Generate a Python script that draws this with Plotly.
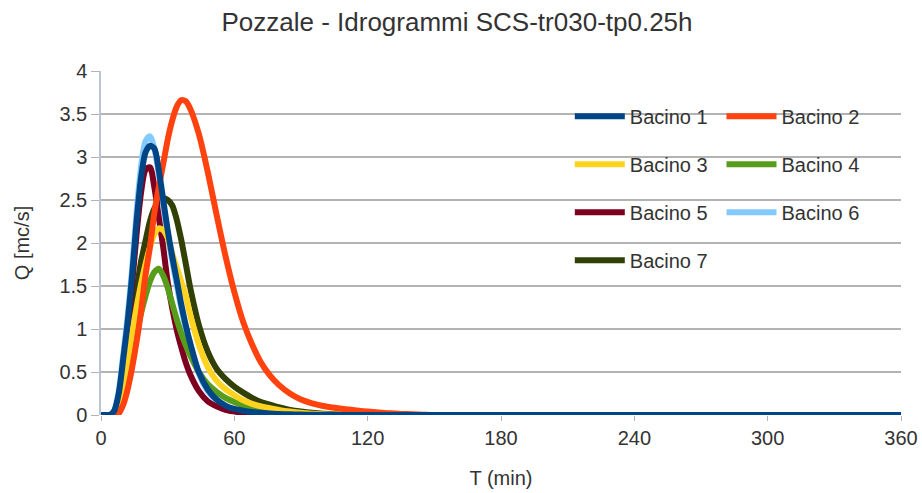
import plotly.graph_objects as go

# Time axis (minutes)
T = [0, 2, 4, 6, 8, 10, 12, 14, 16, 18, 20, 22, 24, 26, 28, 30, 32, 34, 36, 38, 40,
     44, 48, 52, 56, 60, 64, 68, 72, 76, 80,
     85, 90, 95, 100, 105, 110, 115, 120, 125, 130, 135, 140, 145, 150,
     360]

bacino_1 = [0, 0, 0, 0.05, 0.25, 0.65, 1.08, 1.62, 2.25, 2.75, 3.05, 3.13, 3.1, 2.85, 2.5, 2.15, 1.85, 1.58, 1.3, 1.06, 0.85,
            0.5, 0.3, 0.18, 0.11, 0.07, 0.05, 0.035, 0.025, 0.018, 0.012,
            0.008, 0.005, 0.003, 0.002, 0.001, 0, 0, 0, 0, 0, 0, 0, 0, 0,
            0]
bacino_2 = [0, 0, 0, 0, 0.02, 0.12, 0.3, 0.55, 0.85, 1.2, 1.62, 1.95, 2.35, 2.65, 2.92, 3.2, 3.42, 3.58, 3.66, 3.65, 3.57,
            3.27, 2.83, 2.33, 1.85, 1.43, 1.08, 0.82, 0.61, 0.46, 0.35,
            0.25, 0.18, 0.135, 0.105, 0.085, 0.068, 0.053, 0.04, 0.03, 0.02, 0.013, 0.008, 0.004, 0,
            0]
bacino_3 = [0, 0, 0, 0.03, 0.14, 0.36, 0.63, 0.95, 1.25, 1.52, 1.75, 1.95, 2.1, 2.17, 2.15, 2.06, 1.88, 1.72, 1.56, 1.4, 1.18,
            0.82, 0.56, 0.4, 0.3, 0.23, 0.17, 0.13, 0.1, 0.08, 0.06,
            0.04, 0.025, 0.015, 0.008, 0.004, 0.002, 0, 0, 0, 0, 0, 0, 0, 0,
            0]
bacino_4 = [0, 0, 0, 0.02, 0.1, 0.26, 0.46, 0.7, 0.95, 1.18, 1.38, 1.55, 1.66, 1.7, 1.62, 1.48, 1.3, 1.12, 0.96, 0.82, 0.7,
            0.5, 0.36, 0.27, 0.2, 0.15, 0.11, 0.08, 0.06, 0.045, 0.035,
            0.025, 0.015, 0.01, 0.005, 0.002, 0, 0, 0, 0, 0, 0, 0, 0, 0,
            0]
bacino_5 = [0, 0, 0, 0.04, 0.22, 0.58, 1.0, 1.52, 2.1, 2.58, 2.85, 2.88, 2.65, 2.3, 1.95, 1.55, 1.25, 1.0, 0.8, 0.62, 0.48,
            0.28, 0.16, 0.1, 0.06, 0.04, 0.025, 0.015, 0.01, 0.006, 0.003,
            0.001, 0, 0, 0, 0, 0, 0, 0, 0, 0, 0, 0, 0, 0,
            0]
bacino_6 = [0, 0, 0, 0.06, 0.28, 0.7, 1.15, 1.7, 2.35, 2.88, 3.18, 3.24, 3.1, 2.8, 2.45, 2.1, 1.8, 1.52, 1.26, 1.02, 0.82,
            0.48, 0.28, 0.17, 0.1, 0.06, 0.04, 0.03, 0.02, 0.015, 0.01,
            0.006, 0.004, 0.002, 0.001, 0, 0, 0, 0, 0, 0, 0, 0, 0, 0,
            0]
bacino_7 = [0, 0, 0, 0.03, 0.15, 0.4, 0.72, 1.08, 1.45, 1.78, 2.02, 2.25, 2.4, 2.48, 2.52, 2.5, 2.44, 2.28, 2.05, 1.78, 1.5,
            1.05, 0.74, 0.54, 0.42, 0.33, 0.26, 0.2, 0.15, 0.12, 0.09,
            0.06, 0.04, 0.025, 0.015, 0.008, 0.004, 0.002, 0, 0, 0, 0, 0, 0, 0,
            0]

series_names = ["Bacino 1", "Bacino 2", "Bacino 3", "Bacino 4", "Bacino 5", "Bacino 6", "Bacino 7"]
series_values = [bacino_1, bacino_2, bacino_3, bacino_4, bacino_5, bacino_6, bacino_7]
series_colors = ["#004586", "#ff420e", "#ffd320", "#579d1c", "#7e0021", "#83caff", "#314004"]
legend_ids = ["legend", "legend2", "legend", "legend2", "legend", "legend2", "legend"]

x_ticks = [0, 60, 120, 180, 240, 300, 360]
y_ticks = [0, 0.5, 1, 1.5, 2, 2.5, 3, 3.5, 4]
y_tick_labels = ["0", "0.5", "1", "1.5", "2", "2.5", "3", "3.5", "4"]

FONT = "Liberation Sans, Arial, sans-serif"
TXT = "#333333"
GRID = "#b3b3b3"

fig = go.Figure()
# draw in reverse so Bacino 1 sits on top
for i in reversed(range(len(series_names))):
    fig.add_trace(go.Scatter(
        x=T, y=series_values[i], name=series_names[i], mode="lines",
        line=dict(color=series_colors[i], width=6, shape="spline", smoothing=0.8),
        legend=legend_ids[i], legendgroup="g%d" % i, legendrank=i + 1,
        hoverinfo="x+y+name"))

legend_common = dict(
    font=dict(family=FONT, size=20, color=TXT),
    bgcolor="rgba(0,0,0,0)", borderwidth=0,
    orientation="v", tracegroupgap=19, itemwidth=50,
    xanchor="left", yanchor="top", traceorder="grouped",
    xref="container", yref="container",
)

fig.update_layout(
    width=922, height=493,
    margin=dict(l=101, r=21, t=71, b=78, autoexpand=False),
    paper_bgcolor="white", plot_bgcolor="white",
    font=dict(family=FONT, size=20, color=TXT),
    title=dict(text="Pozzale - Idrogrammi SCS-tr030-tp0.25h", x=457 / 922, xanchor="center",
               y=1 - 22 / 493, yanchor="middle",
               font=dict(family=FONT, size=26, color=TXT)),
    xaxis=dict(range=[0, 360], tickvals=x_ticks, showgrid=False, zeroline=False,
               showline=False, ticks="outside", ticklen=5, tickcolor=GRID,
               tickfont=dict(family=FONT, size=20, color=TXT), automargin=False,
               title=dict(text="T (min)", standoff=22, font=dict(family=FONT, size=20, color=TXT)),
               fixedrange=True),
    yaxis=dict(range=[0, 4], tickvals=y_ticks, ticktext=y_tick_labels, showgrid=True,
               gridcolor=GRID, gridwidth=1.5, zeroline=False,
               showline=True, linecolor="#b8c4d4", linewidth=1.5,
               ticks="outside", ticklen=8, tickcolor=GRID, automargin=False,
               tickfont=dict(family=FONT, size=20, color=TXT),
               title=dict(text="Q [mc/s]", standoff=24, font=dict(family=FONT, size=20, color=TXT)),
               fixedrange=True),
    legend=dict(x=569.8 / 922, y=1 - 96.8 / 493, **legend_common),
    legend2=dict(x=721.5 / 922, y=1 - 96.8 / 493, **legend_common),
    showlegend=True,
)

fig.write_html("out.html", config={"displayModeBar": False},
               post_script="document.body.style.margin='0';")
